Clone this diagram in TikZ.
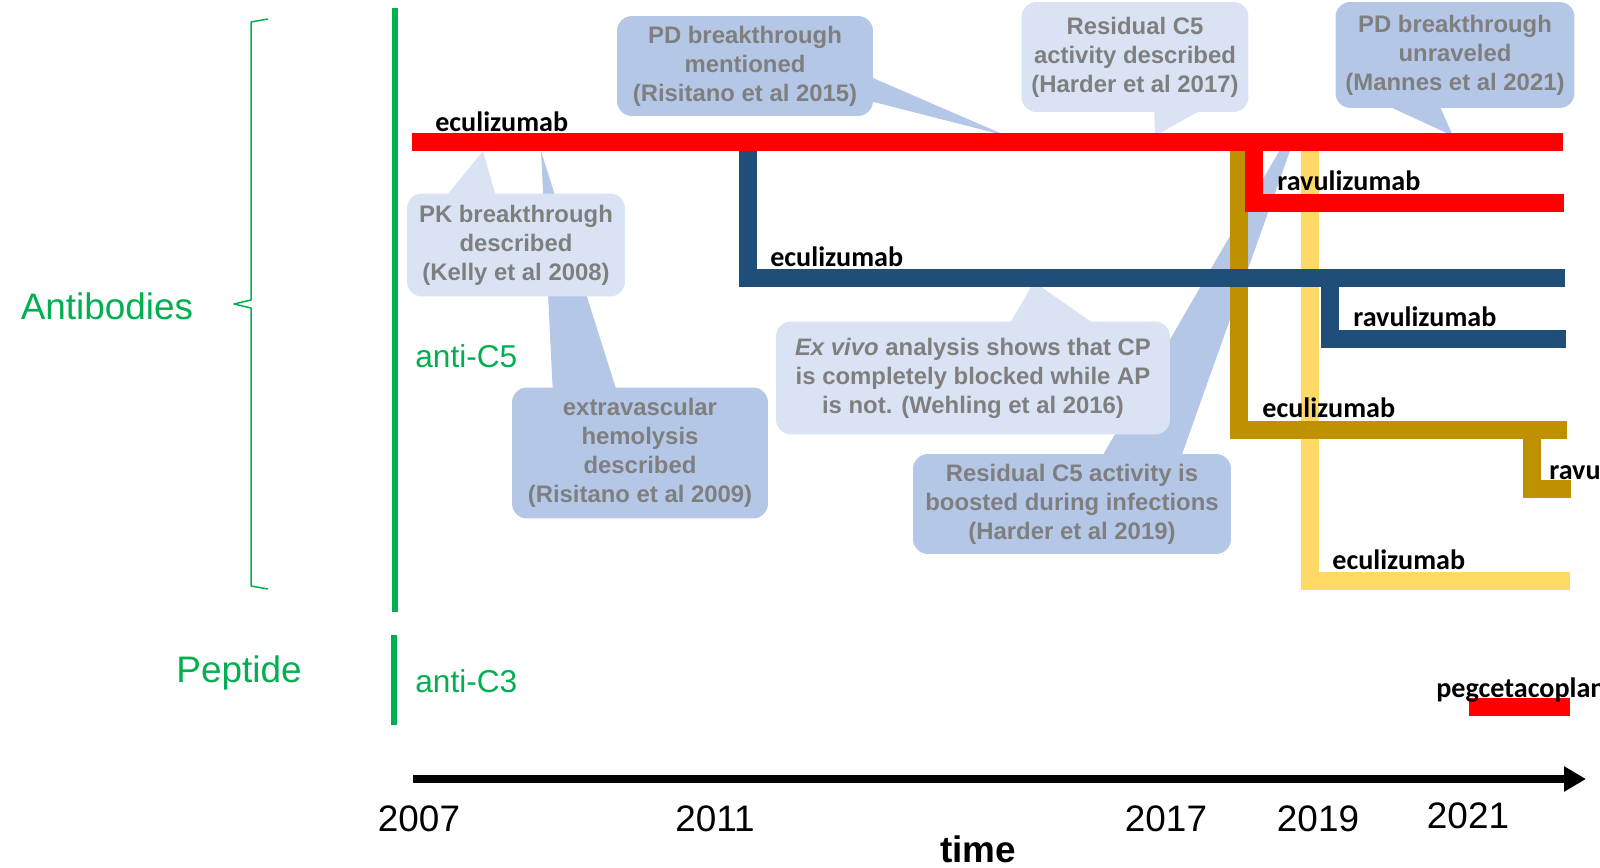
\documentclass[tikz,border=0pt]{standalone}
\usepackage{fontspec}
\setmainfont{Liberation Sans}
\newfontfamily\lblfont{Carlito}
\usepackage{tikz}
\usetikzlibrary{arrows.meta}

\definecolor{grn}{HTML}{00B050}
\definecolor{navy}{HTML}{1F4E79}
\definecolor{gold}{HTML}{BF9000}
\definecolor{sand}{HTML}{FFD966}
\definecolor{boxlight}{HTML}{DAE3F3}
\definecolor{boxdark}{HTML}{B4C7E7}
\definecolor{notegray}{HTML}{7F7F7F}

\tikzset{
  bar/.style={line width=0.36cm,line cap=butt,line join=miter},
  drug/.style={font=\lblfont\bfseries\fontsize{16}{19}\selectfont,inner sep=0pt,anchor=base west},
  note/.style={rounded corners=0.3cm,inner sep=0pt,align=center,text=notegray,
    font=\bfseries\fontsize{13.6}{16.5}\selectfont,
    execute at begin node={\rule{0pt}{13.3pt}}},
  notelight/.style={note,fill=boxlight},
  notedark/.style={note,fill=boxdark},
  group/.style={text=grn,inner sep=0pt,anchor=base,font=\fontsize{21}{25}\selectfont},
  target/.style={text=grn,inner sep=0pt,anchor=base west,font=\fontsize{18}{22}\selectfont}
}

\begin{document}
\begin{tikzpicture}[line join=round,x=0.02cm,y=-0.02cm]
\useasboundingbox (0,0) rectangle (1600,868);
\clip (0,0) rectangle (1600,868);

% groups on the left
\node[group] (antib) at (107,319) {Antibodies};
\node[group] (pept) at (239,682) {Peptide};
\draw[color=grn,line width=0.03cm] (268,19) -- (251,22) -- (251,300) -- (234,304) -- (251,308) -- (251,586) -- (268,589);
\draw[color=grn,line width=0.12cm] (395,8) -- (395,612);
\draw[color=grn,line width=0.12cm] (394,635) -- (394,725);
\node[target] (c5) at (415,368) {anti-C5};
\node[target] (c3) at (415,692) {anti-C3};

% literature notes
\fill[color=boxdark] (1100,460) -- (1281,148) -- (1291,148) -- (1180,460) -- cycle;
\node[notedark,minimum width=6.36cm,minimum height=2cm] (boost) at (1072,504)
  {Residual C5 activity is\\ boosted during infections\\ (Harder et al 2019)};
\fill[color=boxlight] (1006,330) -- (1034,282) -- (1103,330) -- cycle;
\node[notelight,minimum width=7.88cm,minimum height=2.26cm] (exvivo) at (973,378)
  {\textit{Ex vivo} analysis shows that CP\\ is completely blocked while AP\\ is not. (Wehling et al 2016)};
\fill[color=boxdark] (553,395) -- (541,151) -- (618,395) -- cycle;
\node[notedark,minimum width=5.12cm,minimum height=2.62cm] (evh) at (640,453)
  {extravascular\\ hemolysis\\ described\\ (Risitano et al 2009)};
\fill[color=boxlight] (443,200) -- (483,151) -- (497,200) -- cycle;
\node[notelight,minimum width=4.36cm,minimum height=2.06cm] (pk) at (516,245)
  {PK breakthrough\\ described\\ (Kelly et al 2008)};
\fill[color=boxdark] (866,75) -- (1007,136) -- (866,100) -- cycle;
\node[notedark,minimum width=5.12cm,minimum height=2cm] (pdm) at (745,66)
  {PD breakthrough\\ mentioned\\ (Risitano et al 2015)};
\fill[color=boxlight] (1154,105) -- (1155,136) -- (1210,105) -- cycle;
\node[notelight,minimum width=4.54cm,minimum height=2.2cm] (resid) at (1135,57)
  {Residual C5\\ activity described\\ (Harder et al 2017)};
\fill[color=boxdark] (1375,100) -- (1453,136) -- (1437,100) -- cycle;
\node[notedark,minimum width=4.78cm,minimum height=2.12cm] (pdu) at (1455,55)
  {PD breakthrough\\ unraveled\\ (Mannes et al 2021)};

% treatment lines
\draw[bar,color=sand] (1310,133) -- (1310,581) -- (1570,581);
\draw[bar,color=gold] (1239,133) -- (1239,430) -- (1567,430);
\draw[bar,color=gold] (1532,421) -- (1532,489) -- (1571,489);
\draw[bar,color=navy] (748,133) -- (748,278) -- (1565,278);
\draw[bar,color=navy] (1330,269) -- (1330,339) -- (1566,339);
\draw[bar,color=red] (1254,133) -- (1254,203) -- (1564,203);
\draw[bar,color=red] (412,142) -- (1563,142);
\draw[bar,color=red] (1469,707) -- (1570,707);

\node[drug] (ecu1) at (435,132) {eculizumab};
\node[drug] (ecu2) at (770,267) {eculizumab};
\node[drug] (rav1) at (1277,191) {ravulizumab};
\node[drug] (rav2) at (1353,327) {ravulizumab};
\node[drug] (ecu3) at (1262,418) {eculizumab};
\node[drug] (rav3) at (1549,479) {ravulizumab};
\node[drug] (ecu4) at (1332,569) {eculizumab};
\node[drug] (pegc) at (1436,697) {pegcetacoplan};

% time axis
\coordinate (t0) at (413,779);
\coordinate (t1) at (1586,779);
\draw[-{Triangle[length=0.44cm,width=0.48cm]},line width=0.16cm] (t0) -- (t1);
\foreach \yr/\xx/\yy in {2007/419/831,2011/715/831,2017/1166/831,2019/1318/831,2021/1468/828}
  \node[inner sep=0pt,anchor=base,font=\fontsize{21}{25}\selectfont] (y\yr) at (\xx,\yy) {\yr};
\node[inner sep=0pt,anchor=base,font=\bfseries\fontsize{21}{25}\selectfont] (timelbl) at (978,862) {time};
\end{tikzpicture}
\end{document}
